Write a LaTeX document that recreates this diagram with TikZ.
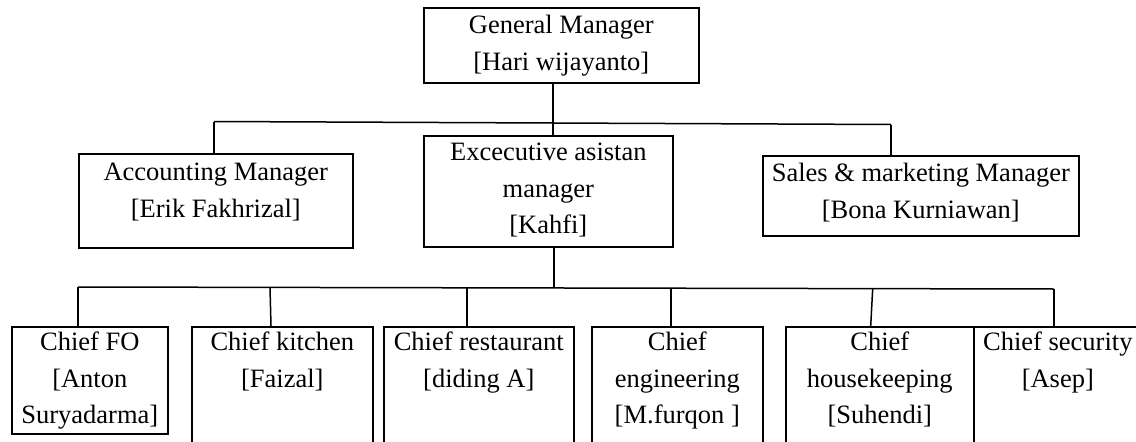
\documentclass[tikz,border=0pt]{standalone}
\usepackage{fontspec}
\setmainfont{Liberation Serif}
\begin{document}
\begin{tikzpicture}[x=1pt,y=-1pt,
  box/.style={draw=black,line width=1.6pt,inner sep=0pt,anchor=north west},
  lbl/.style={align=center,anchor=north,inner sep=0pt,font=\fontsize{26.5}{36.5}\selectfont},
  conn/.style={draw=black,line width=1.5pt}]
\useasboundingbox (0,0) rectangle (1136,442);
\clip (0,0) rectangle (1136,442);
% boxes
\node[box,minimum width=275pt,minimum height=75pt] (gm) at (423,7) {};
\node[box,minimum width=274pt,minimum height=94pt] (acc) at (78,153) {};
\node[box,minimum width=249pt,minimum height=111pt] (exec) at (423,135) {};
\node[box,minimum width=316pt,minimum height=80pt] (sales) at (762,155) {};
\node[box,minimum width=156pt,minimum height=107pt] (fo) at (11,326) {};
\node[box,minimum width=181pt,minimum height=140pt] (kit) at (191,326) {};
\node[box,minimum width=190pt,minimum height=140pt] (rest) at (383,326) {};
\node[box,minimum width=171pt,minimum height=140pt] (eng) at (591,326) {};
\node[box,minimum width=188pt,minimum height=140pt] (hk) at (785,326) {};
\node[box,minimum width=168pt,minimum height=140pt] (sec) at (973,326) {};
% labels
\node[lbl] (tgm) at ([yshift=-8pt]gm.north) {General Manager\\{[}Hari wijayanto]};
\node[lbl] (tacc) at ([yshift=-10pt]acc.north) {Accounting Manager\\{[}Erik Fakhrizal]};
\node[lbl] (texec) at ([yshift=-8pt]exec.north) {Excecutive asistan\\manager\\{[}Kahfi]};
\node[lbl] (tsales) at ([yshift=-8pt]sales.north) {Sales \& marketing Manager\\{[}Bona Kurniawan]};
\node[lbl] (tfo) at ([yshift=-6pt]fo.north) {Chief FO\\{[}Anton\\Suryadarma]};
\node[lbl] (tkit) at ([yshift=-6pt]kit.north) {Chief kitchen\\{[}Faizal]};
\node[lbl] (trest) at ([yshift=-6pt]rest.north) {Chief restaurant\\{[}diding A]};
\node[lbl] (teng) at ([yshift=-6pt]eng.north) {Chief\\engineering\\{[}M.furqon ]};
\node[lbl] (thk) at ([yshift=-6pt]hk.north) {Chief\\housekeeping\\{[}Suhendi]};
\node[lbl] (tsec) at ([yshift=-6pt]sec.north) {Chief security\\{[}Asep]};
% bus coordinates
\coordinate (b1l) at (214,121.5);
\coordinate (b1r) at (891,124.5);
\coordinate (b2l) at (78,287);
\coordinate (b2r) at (1054,289);
\coordinate (b2m) at (554,288);
% connectors
\draw[conn] (gm.south -| 553,0) -- (exec.north -| 553,0);
\draw[conn] (b1l) -- (b1r);
\draw[conn] (b1l) -- (acc.north -| b1l);
\draw[conn] (b1r) -- (sales.north -| b1r);
\draw[conn] (exec.south -| b2m) -- (b2m);
\draw[conn] (b2l) -- (b2r);
\draw[conn] (b2l) -- (fo.north -| b2l);
\draw[conn] (270,287.5) -- (kit.north -| 271,0);
\draw[conn] (467,288) -- (rest.north -| 467,0);
\draw[conn] (671,288.3) -- (eng.north -| 671,0);
\draw[conn] (872.7,288.6) -- (hk.north -| 870.7,0);
\draw[conn] (b2r) -- (sec.north -| b2r);
\end{tikzpicture}
\end{document}
